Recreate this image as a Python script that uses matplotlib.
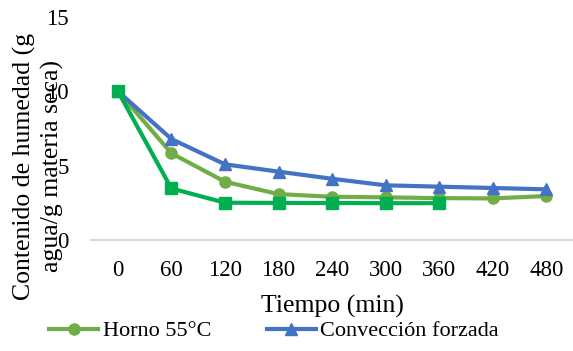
import numpy as np
import matplotlib.pyplot as plt

plt.rcParams['font.family'] = ['Liberation Serif', 'DejaVu Serif']

# Data
tiempos = ["0", "60", "120", "180", "240", "300", "360", "420", "480"]
horno = [10.0, 5.83, 3.92, 3.09, 2.91, 2.87, 2.82, 2.80, 2.96]
conveccion = [10.0, 6.79, 5.09, 4.60, 4.12, 3.68, 3.59, 3.50, 3.41]
tercera = [10.0, 3.47, 2.51, 2.50, 2.49, 2.48, 2.48]

x = np.arange(len(tiempos))

fig = plt.figure(figsize=(5.73, 3.51), dpi=100)
ax = fig.add_axes([0.159, 0.316, 0.841, 0.636])

ax.plot(x, horno, color='#70AD47', lw=3, marker='o', ms=8, label='Horno 55°C')
ax.plot(x, conveccion, color='#4472C4', lw=3, marker='^', ms=8, label='Convección forzada')
ax.plot(x[:len(tercera)], tercera, color='#00B050', lw=3, marker='s', ms=8)

ax.set_xlim(-0.5, len(tiempos) - 0.5)
ax.set_ylim(0, 15)
ax.set_yticks([0, 5, 10, 15])
ax.set_xticks(x)
ax.set_xticklabels(tiempos)
ax.tick_params(axis='both', length=0, labelsize=16.5)
ax.tick_params(axis='y', pad=16)
ax.tick_params(axis='x', pad=14)
for s in ['top', 'right', 'left']:
    ax.spines[s].set_visible(False)
ax.spines['bottom'].set_color('#D9D9D9')
ax.spines['bottom'].set_linewidth(1.5)

ax.set_xlabel('Tiempo (min)', fontsize=18.5, labelpad=10)
fig.text(0.067, 0.527, 'Contenido de humedad (g\nagua/g materia seca)',
         rotation=90, ha='center', va='center', multialignment='center',
         fontsize=18.5, linespacing=1.25)

fig.legend(loc='center', bbox_to_anchor=(274 / 573, 1 - 331 / 351), ncol=2,
           frameon=False, fontsize=16, handlelength=2.2, columnspacing=2.5,
           handletextpad=0.2, borderaxespad=0)

fig.savefig('out.png', dpi=100)
